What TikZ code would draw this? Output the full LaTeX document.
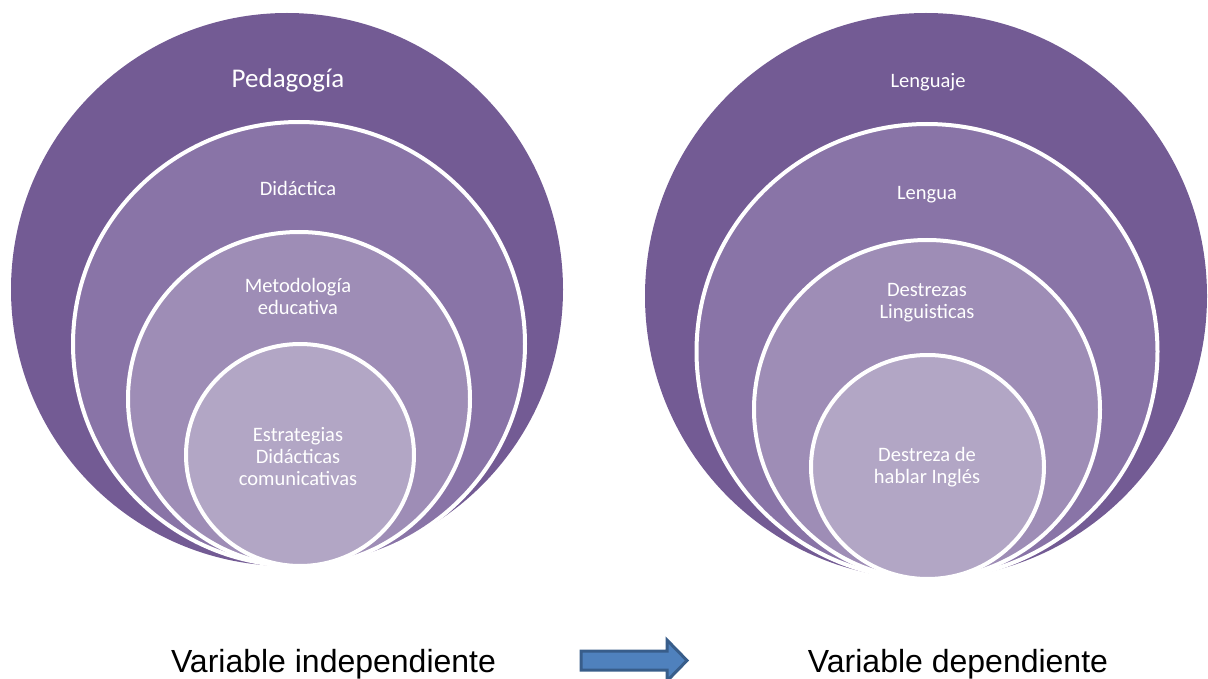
\documentclass[tikz,border=0pt]{standalone}
\usepackage{fontspec}
\setmainfont{Carlito}
\newfontfamily\arialfont{Liberation Sans}
\usetikzlibrary{shapes.geometric}
\definecolor{pA}{RGB}{115,91,148}
\definecolor{pB}{RGB}{137,116,167}
\definecolor{pC}{RGB}{158,141,182}
\definecolor{pD}{RGB}{178,166,197}
\definecolor{arrfill}{RGB}{79,129,189}
\definecolor{arrline}{RGB}{56,93,138}
\tikzset{
  ring/.style={ellipse, draw=white, line width=4pt, inner sep=0pt, outer sep=0pt},
  lbl/.style={text=white, align=center, inner sep=0pt, font=\fontsize{20.5}{22}\selectfont},
  biglbl/.style={text=white, align=center, inner sep=0pt, font=\fontsize{27}{30}\selectfont},
  varlbl/.style={text=black, inner sep=0pt, font=\arialfont\fontsize{32}{36}\selectfont},
}
\begin{document}
\begin{tikzpicture}[x=1pt,y=-1pt]
\useasboundingbox (0,0) rectangle (1208,679);
% left group
\node[ring, draw=none, fill=pA, minimum width=552pt, minimum height=553pt] (L1) at (287,289.5) {};
\node[ring, fill=pB, minimum width=452pt, minimum height=444pt] (L2) at (299,344) {};
\node[ring, fill=pC, minimum width=342pt, minimum height=334pt] (L3) at (299,399) {};
\node[ring, fill=pD, minimum width=228pt, minimum height=222pt] (L4) at (300,455) {};
\node[biglbl] (tL1) at (288,80) {Pedagogía};
\node[lbl] (tL2) at (298,188) {Didáctica};
\node[lbl] (tL3) at (298,296) {Metodología\\educativa};
\node[lbl] (tL4) at (298,456.5) {Estrategias\\Didácticas\\comunicativas};
% right group
\node[ring, draw=none, fill=pA, minimum width=562pt, minimum height=566pt] (R1) at (926,296) {};
\node[ring, fill=pB, minimum width=461pt, minimum height=455pt] (R2) at (927,351.5) {};
\node[ring, fill=pC, minimum width=346pt, minimum height=339pt] (R3) at (927,409.5) {};
\node[ring, fill=pD, minimum width=233pt, minimum height=224pt] (R4) at (927.5,467) {};
\node[lbl] (tR1) at (928,82) {Lenguaje};
\node[lbl] (tR2) at (927,195) {Lengua};
\node[lbl] (tR3) at (927,303) {Destrezas\\Linguisticas};
\node[lbl] (tR4) at (927,467.5) {Destreza de\\hablar Inglés};
% bottom labels
\node[varlbl, anchor=base] (vi) at (333.5,672) {Variable independiente};
\node[varlbl, anchor=base] (vd) at (958,672) {Variable dependiente};
% block arrow
\draw[fill=arrfill, draw=arrline, line width=3pt, line join=miter]
  (581,651) -- (667,651) -- (667,640) -- (687,660.5) -- (667,681) -- (667,670) -- (581,670) -- cycle;
\end{tikzpicture}
\end{document}
